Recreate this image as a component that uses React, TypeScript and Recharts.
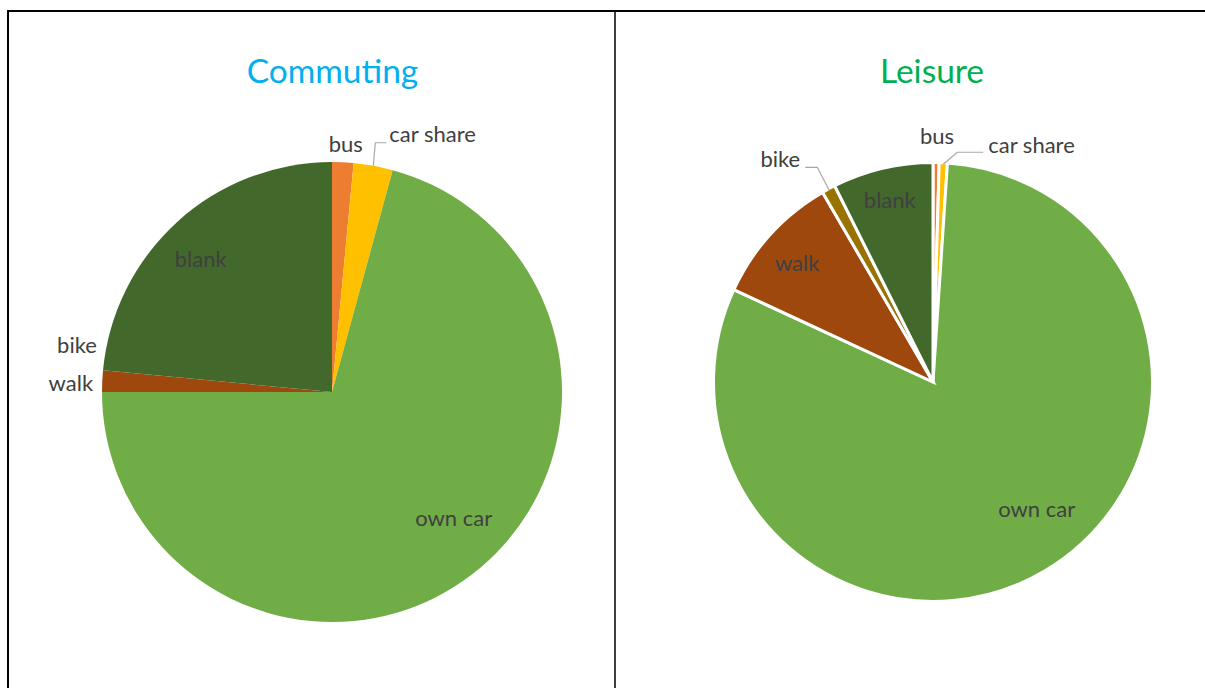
import React from 'react';
import { PieChart, Pie, Cell } from 'recharts';

// ---- data ----
const categories = ['bus', 'car share', 'own car', 'walk', 'bike', 'blank'];
const commutingValues = [1.5, 2.75, 70.75, 1.5, 0, 23.5];
const leisureValues = [0.45, 0.6, 80.9, 9.7, 1.0, 7.4];
const chartTitles = ['Commuting', 'Leisure'];

const commutingData = categories.map((name, i) => ({ name, value: commutingValues[i] }));
const leisureData = categories.map((name, i) => ({ name, value: leisureValues[i] }));

// ---- styles ----
const COLORS = ['#ED7D31', '#FFC000', '#70AD47', '#9E480E', '#997300', '#43682B'];
const FONT = 'Lato, "Open Sans", sans-serif';
const LABEL_COLOR = '#404040';
const LEADER_COLOR = '#A6A6A6';

type Place = {
  r?: number;
  dA?: number;
  anchor: 'start' | 'middle' | 'end';
  dx?: number;
  dy?: number;
  leader?: [number, number][];
};

const commutingPlaces: Place[] = [
  { r: 1.08, anchor: 'middle', dx: 2 },
  { leader: [[2, -23], [11, 0]], anchor: 'start', dx: 3, dy: -9 },
  { r: 0.76, dA: -6.8, anchor: 'middle' },
  { r: 1.04, anchor: 'end', dy: 1.5 },
  { r: 1.04, anchor: 'end', dx: 3, dy: -25 },
  { r: 0.813, dA: -2.3, anchor: 'middle' },
];

const leisurePlaces: Place[] = [
  { r: 1.13, anchor: 'middle', dx: 0.5 },
  { leader: [[14, -12], [26, 0]], anchor: 'start', dx: 5, dy: -8 },
  { r: 0.75, dA: -8.7, anchor: 'middle' },
  { r: 0.83, dA: -1, anchor: 'middle' },
  { leader: [[-12, -23], [-12, 0]], anchor: 'end', dx: -5, dy: -9 },
  { r: 0.86, anchor: 'middle' },
];

const RAD = Math.PI / 180;

function makeLabel(R: number, places: Place[]) {
  return (props: any) => {
    const { cx, cy, midAngle, index, name } = props;
    const p = places[index];
    const theta = 90 - midAngle; // clockwise from top
    const pt = (r: number, t: number): [number, number] => [
      cx + r * Math.sin(t * RAD),
      cy - r * Math.cos(t * RAD),
    ];
    let tx: number;
    let ty: number;
    let line: React.ReactNode = null;
    if (p.leader) {
      const a = pt(R, theta);
      const pts: [number, number][] = [a];
      let cur = a;
      p.leader.forEach(([lx, ly]) => {
        cur = [cur[0] + lx, cur[1] + ly];
        pts.push(cur);
      });
      line = (
        <polyline
          points={pts.map((q) => q.join(',')).join(' ')}
          fill="none"
          stroke={LEADER_COLOR}
          strokeWidth={1.2}
        />
      );
      tx = cur[0] + (p.dx || 0);
      ty = cur[1] + (p.dy || 0);
    } else {
      const q = pt(R * (p.r || 1), theta + (p.dA || 0));
      tx = q[0] + (p.dx || 0);
      ty = q[1] + (p.dy || 0);
    }
    return (
      <g key={`lbl-${index}`}>
        {line}
        <text
          x={tx}
          y={ty}
          textAnchor={p.anchor}
          dominantBaseline="central"
          fill={LABEL_COLOR}
          fontFamily={FONT}
          fontSize={22}
        >
          {name}
        </text>
      </g>
    );
  };
}

export default function App() {
  return (
    <div style={{ position: 'absolute', left: 0, top: 0, width: 1205, height: 688, background: '#fff', overflow: 'hidden' }}>
      <div style={{ position: 'absolute', left: 0, top: 0 }}>
        <PieChart width={1205} height={688} margin={{ top: 0, right: 0, bottom: 0, left: 0 }}>
          <Pie
            data={commutingData}
            dataKey="value"
            nameKey="name"
            cx={332}
            cy={392}
            outerRadius={230}
            startAngle={90}
            endAngle={-270}
            stroke="none"
            labelLine={false}
            label={makeLabel(230, commutingPlaces)}
            isAnimationActive={false}
          >
            {commutingData.map((d, i) => (
              <Cell key={d.name} fill={COLORS[i]} />
            ))}
          </Pie>
          <Pie
            data={leisureData}
            dataKey="value"
            nameKey="name"
            cx={933}
            cy={382}
            outerRadius={219.5}
            startAngle={90}
            endAngle={-270}
            stroke="#ffffff"
            strokeWidth={3}
            labelLine={false}
            label={makeLabel(218, leisurePlaces)}
            isAnimationActive={false}
          >
            {leisureData.map((d, i) => (
              <Cell key={d.name} fill={COLORS[i]} stroke="#ffffff" strokeWidth={3} />
            ))}
          </Pie>
        </PieChart>
      </div>
      <svg
        width={1205}
        height={688}
        style={{ position: 'absolute', left: 0, top: 0, pointerEvents: 'none' }}
      >
        <line x1={7} y1={11} x2={1205} y2={11} stroke="#000" strokeWidth={2} />
        <line x1={8} y1={10} x2={8} y2={688} stroke="#000" strokeWidth={2} />
        <line x1={615} y1={10} x2={615} y2={688} stroke="#000" strokeWidth={1.5} />
        <text x={332.5} y={82.5} textAnchor="middle" fill="#00B0F0" fontFamily={FONT} fontSize={33.5}>
          {chartTitles[0]}
        </text>
        <text x={932} y={82.5} textAnchor="middle" fill="#00B050" fontFamily={FONT} fontSize={33.5}>
          {chartTitles[1]}
        </text>
      </svg>
    </div>
  );
}
